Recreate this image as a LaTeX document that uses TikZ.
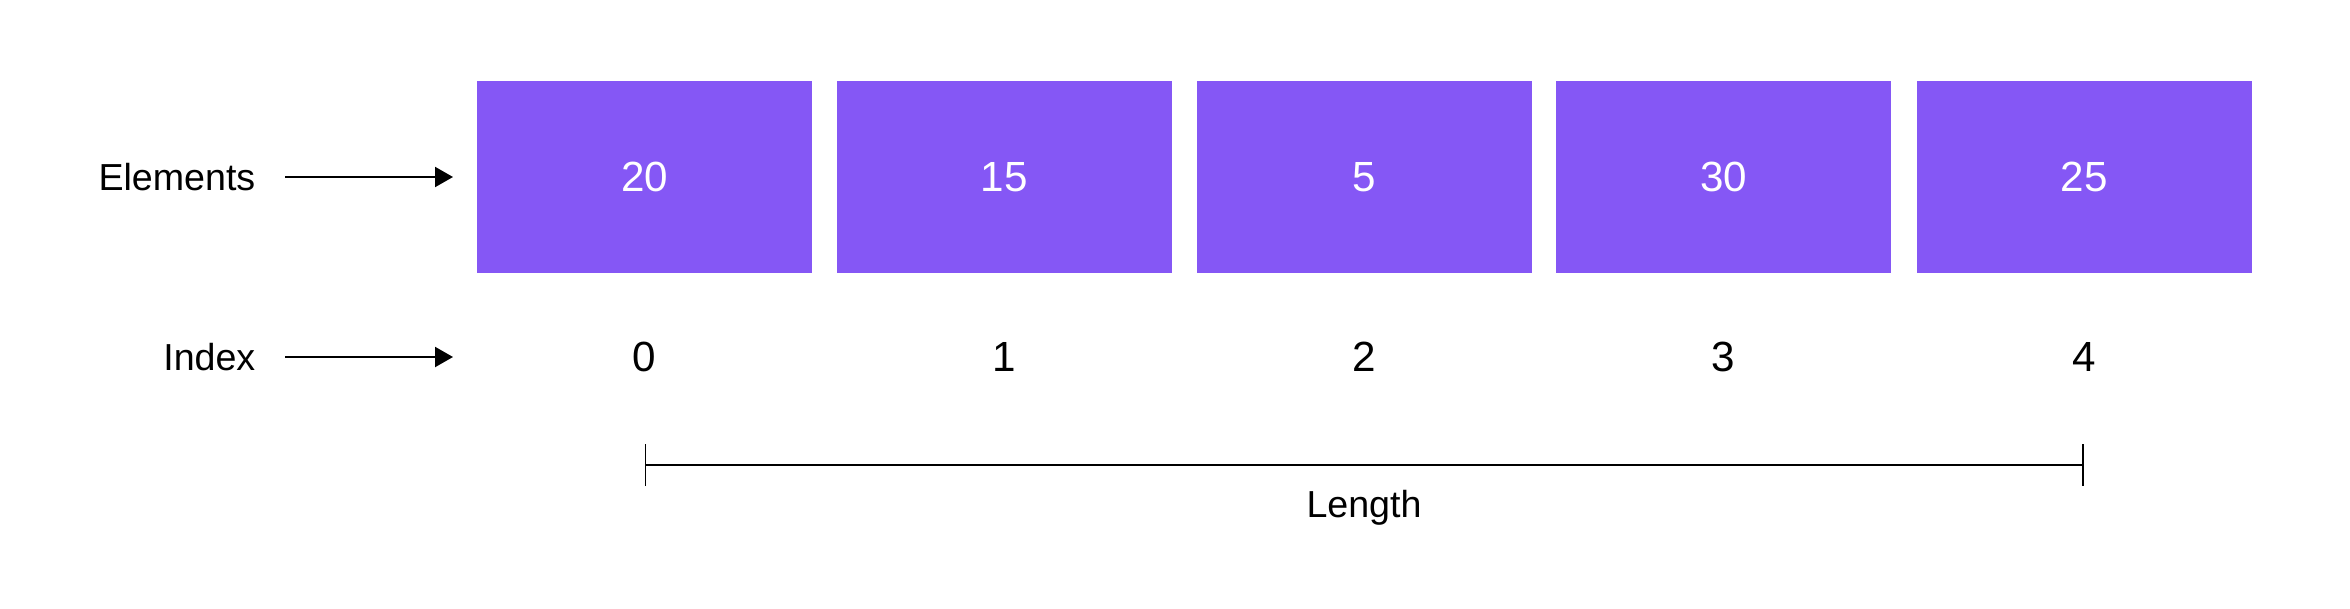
\documentclass[tikz,border=0pt]{standalone}
\usepackage{fontspec}
\setmainfont{Liberation Sans}
\usepackage{tikz}
\usetikzlibrary{arrows.meta}

\definecolor{cellpurple}{HTML}{8557F5}

\tikzset{
 cell/.style={fill=cellpurple, minimum width=3.35cm, minimum height=1.92cm, inner sep=0pt, text=white, font=\fontsize{12}{14}\selectfont},
 idx/.style={font=\fontsize{12}{14}\selectfont},
 lbl/.style={anchor=east, inner sep=0pt, font=\fontsize{10.7}{13}\selectfont},
 arr/.style={line width=0.6pt, -{Triangle[length=1.8mm,width=2mm]}},
 span/.style={line width=0.6pt, {Bar[width=4.2mm,line width=0.5pt]}-{Bar[width=4.2mm,line width=0.5pt]}}
}

\begin{document}
\begin{tikzpicture}
 \useasboundingbox (0,0) rectangle (23.5,6.08);
 % row labels
 \node[lbl] (elab) at (2.56,4.31) {Elements};
 \node[lbl] (ilab) at (2.56,2.51) {Index};
 \coordinate (eend) at (4.53,4.31);
 \coordinate (iend) at (4.53,2.51);
  \draw[arr, shorten <=2.9mm] (elab.east) -- (eend);
  \draw[arr, shorten <=2.9mm] (ilab.east) -- (iend);
 % array cells
 \node[cell] (c0) at (6.445,4.31) {20};
 \node[cell] (c1) at (10.04,4.31) {15};
 \node[cell] (c2) at (13.64,4.31) {5};
 \node[cell] (c3) at (17.235,4.31) {30};
 \node[cell] (c4) at (20.84,4.31) {25};
 % indices
 \node[idx] (i0) at (6.445,2.51) {0};
 \node[idx] (i1) at (10.04,2.51) {1};
 \node[idx] (i2) at (13.64,2.51) {2};
 \node[idx] (i3) at (17.235,2.51) {3};
 \node[idx] (i4) at (20.84,2.51) {4};
 % length
 \coordinate (l0) at (6.445,1.43);
 \coordinate (l4) at (20.84,1.43);
  \draw[span] (l0) -- (l4);
 \node[lbl, anchor=center] (len) at (13.64,1.0) {Length};
\end{tikzpicture}
\end{document}
